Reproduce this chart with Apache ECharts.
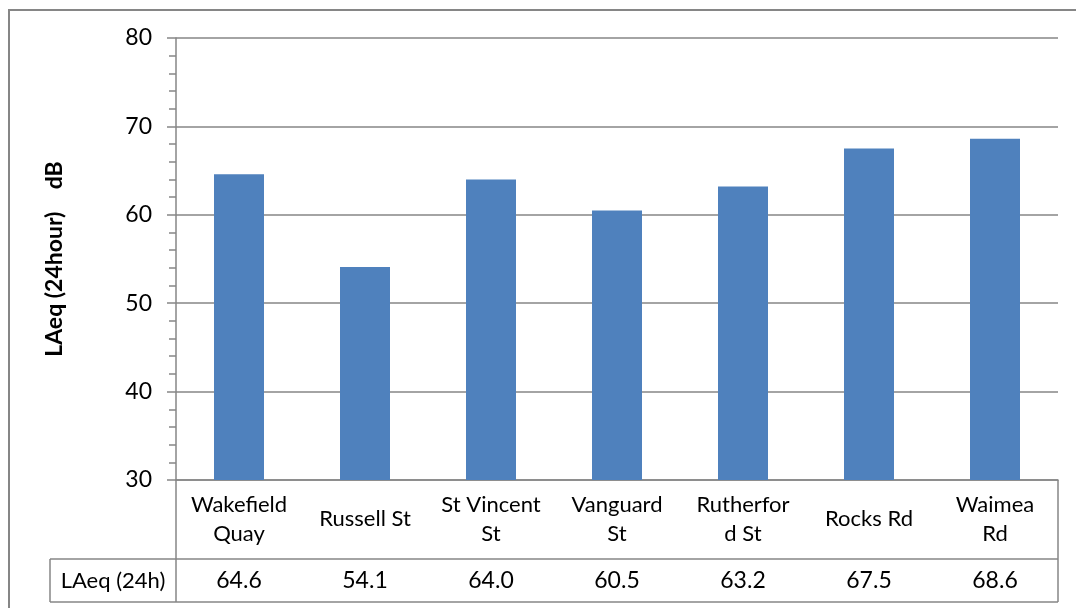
<!DOCTYPE html>
<html><head><meta charset="utf-8">
<script src="https://cdn.jsdelivr.net/npm/echarts@6/dist/echarts.min.js"></script>
<style>html,body{margin:0;padding:0;background:#fff}#c{width:1076px;height:608px}</style>
</head><body><div id="c"></div>
<script>
const categories = ["Wakefield\nQuay", "Russell St", "St Vincent\nSt", "Vanguard\nSt", "Rutherfor\nd St", "Rocks Rd", "Waimea\nRd"];
const values = [64.6, 54.1, 64.0, 60.5, 63.2, 67.5, 68.6];
const seriesName = "LAeq (24h)";
const yTicks = [30, 40, 50, 60, 70, 80];

const FONT = 'Lato';
const GRAY = '#868686';
const chart = echarts.init(document.getElementById('c'));
chart.setOption({
  animation: false,
  grid: { left: 176, right: 18, top: 38, bottom: 128, containLabel: false },
  xAxis: [
    {
      type: 'category', data: categories,
      axisLine: { show: true, lineStyle: { color: GRAY, width: 1.5 } },
      axisTick: { show: false },
      axisLabel: { interval: 0, margin: 39, verticalAlign: 'middle', color: '#000', fontFamily: FONT, fontSize: 22, lineHeight: 29 }
    },
    {
      type: 'category', data: categories, position: 'bottom', offset: 0,
      axisLine: { show: false }, axisTick: { show: false },
      axisLabel: { interval: 0, margin: 101, verticalAlign: 'middle', color: '#000', fontFamily: FONT, fontSize: 23,
        formatter: (v, i) => values[i].toFixed(1) }
    }
  ],
  yAxis: {
    type: 'value', min: yTicks[0], max: yTicks[yTicks.length - 1], interval: 10,
    name: 'LAeq (24hour)    dB', nameLocation: 'middle', nameRotate: 90, nameGap: 110,
    nameTextStyle: { fontFamily: FONT, fontWeight: 'bold', fontSize: 23, color: '#000' },
    axisLine: { show: true, lineStyle: { color: GRAY, width: 1.5 } },
    axisTick: { show: true, length: 9, lineStyle: { color: GRAY, width: 1.5 } },
    minorTick: { show: true, splitNumber: 5, length: 7, lineStyle: { color: GRAY, width: 1.5 } },
    splitLine: { show: true, lineStyle: { color: GRAY, width: 1.5 } },
    axisLabel: { margin: 24, color: '#000', fontFamily: FONT, fontSize: 23 }
  },
  series: [{
    name: seriesName, type: 'bar', data: values, barWidth: 50,
    itemStyle: { color: '#4F81BD' }
  }],
  graphic: [
    { type: 'polyline', shape: { points: [[9, 608], [9, 10], [1076, 10]] }, style: { stroke: GRAY, lineWidth: 2, fill: null } },
    { type: 'line', shape: { x1: 50, y1: 559, x2: 1058, y2: 559 }, style: { stroke: GRAY, lineWidth: 1.5 } },
    { type: 'line', shape: { x1: 50, y1: 602, x2: 1058, y2: 602 }, style: { stroke: GRAY, lineWidth: 1.5 } },
    { type: 'line', shape: { x1: 50, y1: 559, x2: 50, y2: 602 }, style: { stroke: GRAY, lineWidth: 1.5 } },
    { type: 'line', shape: { x1: 176, y1: 480, x2: 176, y2: 602 }, style: { stroke: GRAY, lineWidth: 1.5 } },
    { type: 'line', shape: { x1: 1058, y1: 480, x2: 1058, y2: 602 }, style: { stroke: GRAY, lineWidth: 1.5 } },
    { type: 'text', x: 113, y: 581, style: { text: seriesName, font: '22px ' + FONT, fill: '#000', align: 'center', verticalAlign: 'middle' } }
  ]
});
</script></body></html>
